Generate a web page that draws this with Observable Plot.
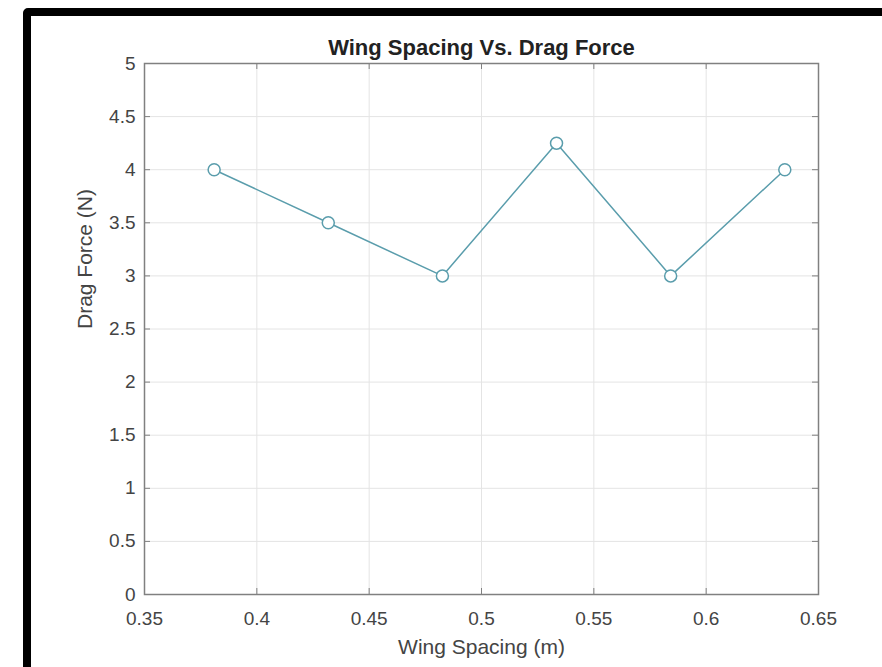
<!DOCTYPE html>
<html><head><meta charset="utf-8">
<script src="https://cdn.jsdelivr.net/npm/d3@7"></script>
<script src="https://cdn.jsdelivr.net/npm/@observablehq/plot@0.6"></script>
<style>
html,body{margin:0;padding:0;background:#fff;overflow:hidden;}
#wrap{position:relative;width:882px;height:667px;overflow:hidden;}
#frame{position:absolute;left:23px;top:8px;width:900px;height:700px;border:8px solid #000;border-radius:5px;box-sizing:border-box;pointer-events:none;}
#chart{position:absolute;left:0;top:0;}
</style></head><body>
<div id="wrap"><div id="chart"></div><div id="frame"></div></div>
<script>
const titleText = "Wing Spacing Vs. Drag Force";
const xLabel = "Wing Spacing (m)";
const yLabel = "Drag Force (N)";
const wingSpacing = [0.381, 0.4318, 0.4826, 0.5334, 0.5842, 0.635];
const dragForce = [4, 3.5, 3, 4.25, 3, 4];
const xTicks = [0.35, 0.4, 0.45, 0.5, 0.55, 0.6, 0.65];
const xTickLabels = ["0.35", "0.4", "0.45", "0.5", "0.55", "0.6", "0.65"];
const yTicks = [0, 0.5, 1, 1.5, 2, 2.5, 3, 3.5, 4, 4.5, 5];
const yTickLabels = ["0", "0.5", "1", "1.5", "2", "2.5", "3", "3.5", "4", "4.5", "5"];

const data = wingSpacing.map((x, i) => ({x, y: dragForce[i]}));

const W = 882, H = 667, mL = 144, mR = 64, mT = 63, mB = 73;
const innerW = W - mL - mR, innerH = H - mT - mB, tk = 6;
const axisColor = "#808080", textColor = "#444", lineColor = "#5a9dac", gridColor = "#e4e4e4";

const plot = Plot.plot({
  width: W, height: H,
  marginLeft: mL, marginRight: mR, marginTop: mT, marginBottom: mB,
  style: {fontFamily: "'Liberation Sans', Arial, Helvetica, sans-serif", background: "#fff", overflow: "visible"},
  x: {domain: [0.35, 0.65]},
  y: {domain: [0, 5]},
  marks: [
    Plot.gridX(xTicks, {stroke: gridColor, strokeOpacity: 1}),
    Plot.gridY(yTicks, {stroke: gridColor, strokeOpacity: 1}),
    Plot.frame({stroke: axisColor, strokeWidth: 1.5}),
    Plot.tickX(xTicks, {x: d => d, insetTop: innerH - tk, stroke: axisColor}),
    Plot.tickX(xTicks, {x: d => d, insetBottom: innerH - tk, stroke: axisColor}),
    Plot.tickY(yTicks, {y: d => d, insetRight: innerW - tk, stroke: axisColor}),
    Plot.tickY(yTicks, {y: d => d, insetLeft: innerW - tk, stroke: axisColor}),
    Plot.axisX(xTicks, {anchor: "bottom", tickSize: 0, tickPadding: 17, fontSize: 19, fill: textColor, label: null,
      tickFormat: d => xTickLabels[xTicks.indexOf(d)]}),
    Plot.axisY(yTicks, {anchor: "left", tickSize: 0, tickPadding: 9, fontSize: 19, fill: textColor, label: null,
      tickFormat: d => yTickLabels[yTicks.indexOf(d)]}),
    Plot.line(data, {x: "x", y: "y", stroke: lineColor, strokeWidth: 1.5}),
    Plot.dot(data, {x: "x", y: "y", r: 6, stroke: lineColor, strokeWidth: 1.5, fill: "#fff"}),
    Plot.text([titleText], {text: d => d, frameAnchor: "top", lineAnchor: "bottom", dy: -9, fontSize: 22, fontWeight: "bold", fill: "#222"}),
    Plot.text([xLabel], {text: d => d, frameAnchor: "bottom", lineAnchor: "top", dy: 45, fontSize: 21, fill: textColor}),
    Plot.text([yLabel], {text: d => d, frameAnchor: "left", rotate: -90, dx: -59, fontSize: 21, fill: textColor})
  ]
});
document.getElementById("chart").appendChild(plot);
</script>
</body></html>
